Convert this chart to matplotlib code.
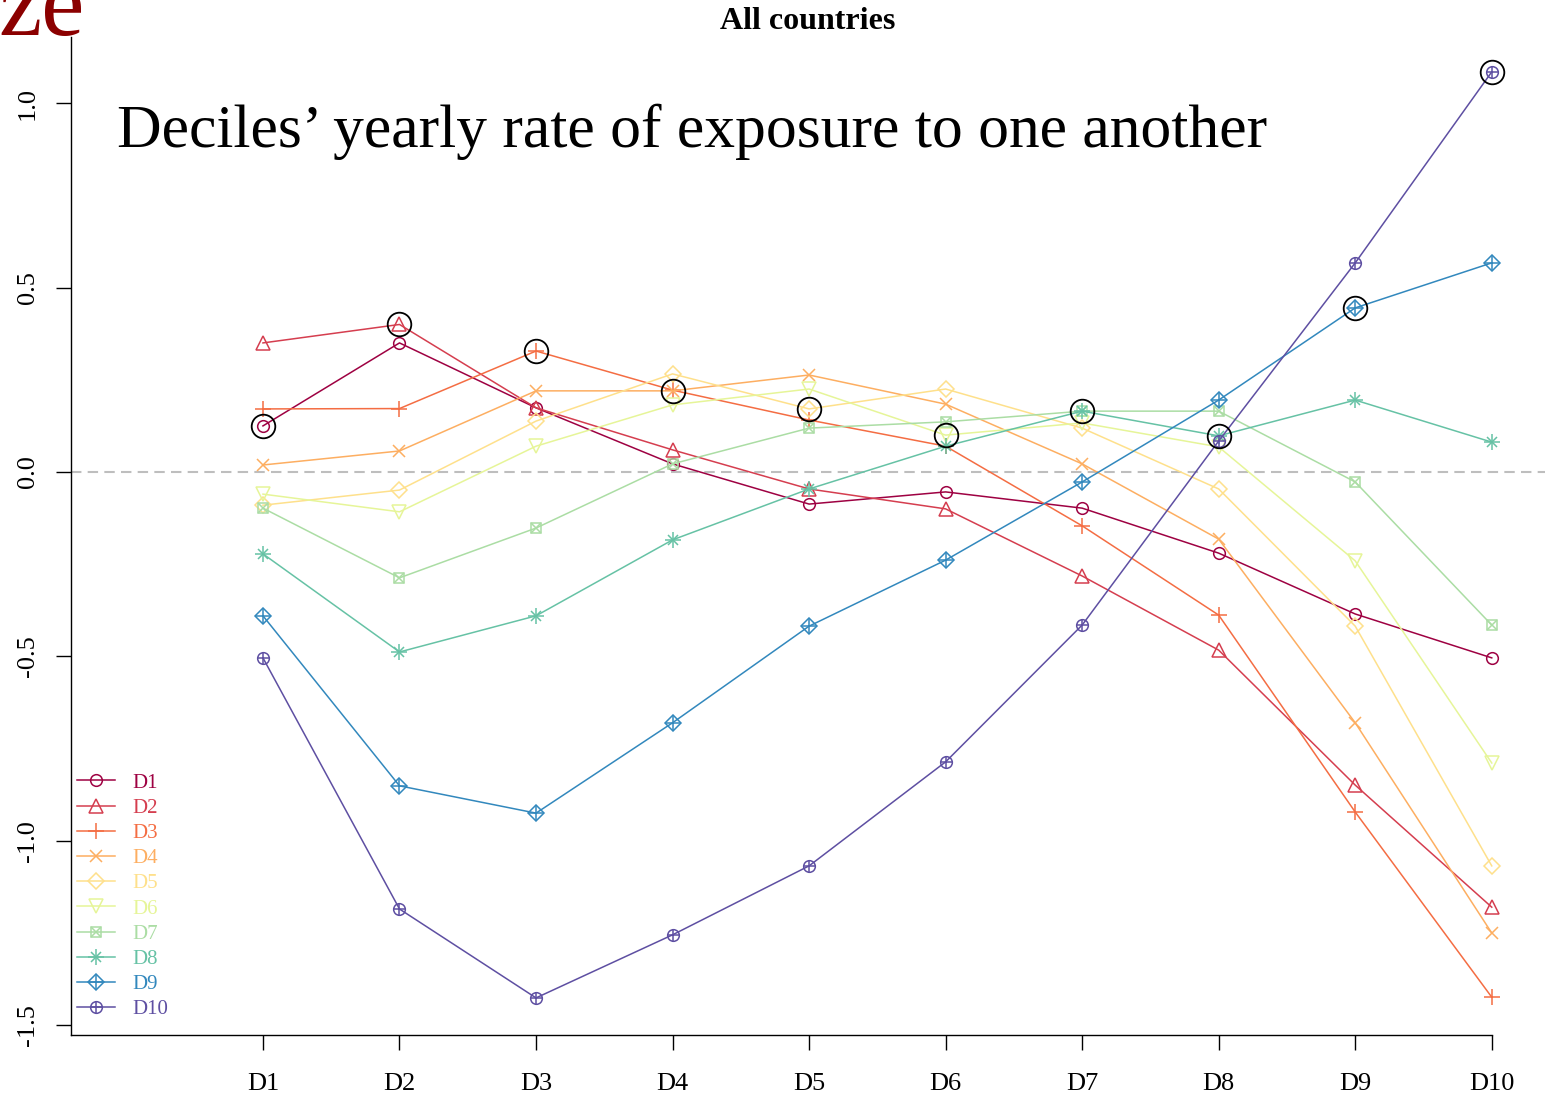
import matplotlib
matplotlib.use("Agg")
import matplotlib.pyplot as plt
from matplotlib.lines import Line2D
from matplotlib.legend_handler import HandlerTuple

plt.rcParams['font.family'] = ['Liberation Serif', 'DejaVu Serif']
plt.rcParams['lines.scale_dashes'] = False

categories = ["D1", "D2", "D3", "D4", "D5", "D6", "D7", "D8", "D9", "D10"]
series_names = ["D1", "D2", "D3", "D4", "D5", "D6", "D7", "D8", "D9", "D10"]
colors = ["#9E0142", "#D53E4F", "#F46D43", "#FDAE61", "#FEE08B",
          "#E6F598", "#ABDDA4", "#66C2A5", "#3288BD", "#5E4FA2"]

d1 = [0.125, 0.350, 0.174, 0.022, -0.087, -0.054, -0.098, -0.220, -0.385, -0.504]
d2 = [0.350, 0.400, 0.174, 0.060, -0.046, -0.100, -0.282, -0.483, -0.849, -1.180]
d3 = [0.171, 0.172, 0.328, 0.222, 0.141, 0.070, -0.146, -0.388, -0.922, -1.424]
d4 = [0.019, 0.057, 0.220, 0.220, 0.263, 0.184, 0.022, -0.182, -0.680, -1.250]
d5 = [-0.090, -0.049, 0.138, 0.266, 0.171, 0.225, 0.119, -0.046, -0.418, -1.068]
d6 = [-0.060, -0.108, 0.070, 0.182, 0.225, 0.100, 0.133, 0.068, -0.241, -0.789]
d7 = [-0.098, -0.287, -0.152, 0.022, 0.119, 0.136, 0.165, 0.165, -0.027, -0.415]
d8 = [-0.222, -0.488, -0.390, -0.184, -0.046, 0.070, 0.165, 0.098, 0.195, 0.081]
d9 = [-0.390, -0.851, -0.925, -0.680, -0.418, -0.239, -0.027, 0.195, 0.445, 0.567]
d10 = [-0.504, -1.185, -1.426, -1.255, -1.068, -0.786, -0.415, 0.084, 0.567, 1.085]
all_series = [d1, d2, d3, d4, d5, d6, d7, d8, d9, d10]

yticks = [-1.5, -1.0, -0.5, 0.0, 0.5, 1.0]
ytick_labels = ["-1.5", "-1.0", "-0.5", "0.0", "0.5", "1.0"]

# marker definitions mimicking R pch 1..10: (marker, size) with optional overlays
marker_specs = [
    [('o', 8.4)],
    [('^', 9.4)],
    [('+', 11.5)],
    [('x', 8.4)],
    [('D', 8.0)],
    [('v', 9.4)],
    [('s', 7.4), ('x', 7.4)],
    [('+', 11.0), ('x', 7.8)],
    [('D', 8.0), ('+', 11.3)],
    [('o', 8.4), ('+', 8.4)],
]

W, H = 1545, 1096
fig = plt.figure(figsize=(W / 100, H / 100), dpi=100)
ax_left, ax_right, ax_top, ax_bottom = 71, 1545, 37, 1035
ax = fig.add_axes([ax_left / W, (H - ax_bottom) / H,
                   (ax_right - ax_left) / W, (ax_bottom - ax_top) / H])

x = list(range(1, len(categories) + 1))
lw = 1.1
handles = []
for i, (vals, col, spec) in enumerate(zip(all_series, colors, marker_specs)):
    m0, s0 = spec[0]
    ax.plot(x, vals, color=col, lw=lw, marker=m0, ms=s0, mfc='none',
            mec=col, mew=lw, clip_on=False, zorder=2 + i * 0.01)
    parts = [Line2D([], [], color=col, lw=lw, marker=m0, ms=s0, mfc='none',
                    mec=col, mew=lw)]
    for m, s in spec[1:]:
        ax.plot(x, vals, linestyle='none', marker=m, ms=s, mfc='none',
                mec=col, mew=lw, clip_on=False, zorder=2 + i * 0.01)
        parts.append(Line2D([], [], linestyle='none', marker=m, ms=s,
                            mfc='none', mec=col, mew=lw))
    handles.append(tuple(parts))

# highlighted diagonal points
diag = [all_series[i][i] for i in range(len(all_series))]
ax.plot(x, diag, linestyle='none', marker='o', ms=17, mfc='none', mec='black',
        mew=1.3, clip_on=False, zorder=5)

ax.axhline(0, color='#BEBEBE', lw=1.5, dashes=(7.5, 4.5), zorder=1)

ax.set_xlim(-0.406, 10.39)
ax.set_ylim(-1.5266, 1.1795)
ax.set_xticks(x)
ax.set_xticklabels(categories)
ax.set_yticks(yticks)
ax.set_yticklabels(ytick_labels)
for sp in ['top', 'right']:
    ax.spines[sp].set_visible(False)
ax.spines['bottom'].set_bounds(-0.406, 10)
for sp in ['left', 'bottom']:
    ax.spines[sp].set_linewidth(1.0)
ax.tick_params(axis='both', direction='out', length=11, width=1.0,
               labelsize=19, colors='black')
ax.tick_params(axis='x', pad=16)
ax.tick_params(axis='y', pad=12, labelrotation=90)
for lab in ax.get_yticklabels():
    lab.set_va('center')

ax.set_title("All countries", fontsize=23, fontweight='bold', pad=5.5)

fig.text(117 / W, (H - 147) / H, "Deciles\u2019 yearly rate of exposure to one another",
         fontsize=44.4, va='baseline', ha='left')

fig.text(-2 / W, (H - 35) / H, "ze", fontsize=70, color='#8B0000',
         va='baseline', ha='left')

leg = ax.legend(handles, series_names,
                handler_map={tuple: HandlerTuple(ndivide=1, pad=0)},
                loc='upper left', bbox_to_anchor=(77 / W, (H - 773) / H),
                bbox_transform=fig.transFigure, frameon=False, fontsize=15,
                handlelength=1.8, handletextpad=0.87, labelspacing=0.27,
                borderpad=0, borderaxespad=0)
for t, c in zip(leg.get_texts(), colors):
    t.set_color(c)

fig.savefig("out.png", dpi=100)
